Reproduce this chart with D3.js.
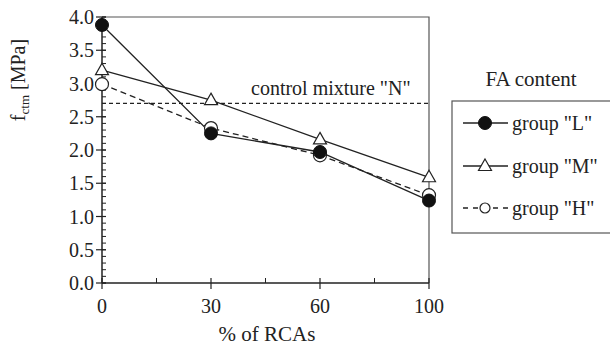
<!DOCTYPE html>
<html>
<head>
<meta charset="utf-8">
<script src="https://cdn.jsdelivr.net/npm/d3@7"></script>
<style>
body { margin: 0; background: #fff; }
</style>
</head>
<body>
<div id="chart"></div>
<script>
var categories = [0, 30, 60, 100];
var groupL = [3.88, 2.25, 1.97, 1.24];
var groupM = [3.20, 2.75, 2.16, 1.59];
var groupH = [2.99, 2.33, 1.92, 1.32];
var controlN = 2.70;
var yTicks = [0, 0.5, 1.0, 1.5, 2.0, 2.5, 3.0, 3.5, 4.0];
var seriesNames = ['group "L"', 'group "M"', 'group "H"'];

var width = 610, height = 349;
var box = { left: 102, top: 17, right: 429, bottom: 283 };
var font = "Liberation Serif";
var ink = "#222";

var svg = d3.select("#chart").append("svg")
    .attr("width", width).attr("height", height);

var x = d3.scalePoint().domain(categories).range([box.left, box.right]);
var y = d3.scaleLinear().domain([0, 4]).range([box.bottom, box.top]);

function label(sel, size) {
    return sel.attr("font-family", font).attr("font-size", size || 20).attr("fill", ink);
}

// frame (top + right)
svg.append("path")
    .attr("d", "M" + box.left + "," + box.top + "H" + box.right + "V" + box.bottom)
    .attr("fill", "none").attr("stroke", "#555").attr("stroke-width", 1.2);

// y axis
var yAxis = svg.append("g").attr("transform", "translate(" + box.left + ",0)");
yAxis.append("line").attr("y1", y(0)).attr("y2", y(4)).attr("stroke", ink).attr("stroke-width", 1.5);
yAxis.selectAll(".minor").data(d3.range(0, 41)).enter().append("line")
    .attr("x1", 0).attr("x2", 4)
    .attr("y1", d => y(d / 10)).attr("y2", d => y(d / 10))
    .attr("stroke", ink).attr("stroke-width", 1);
yAxis.selectAll(".major").data(yTicks).enter().append("line")
    .attr("x1", -6).attr("x2", 4)
    .attr("y1", d => y(d)).attr("y2", d => y(d))
    .attr("stroke", ink).attr("stroke-width", 1.2);
yAxis.selectAll(".lab").data(yTicks).enter().append("text")
    .call(label, 20)
    .attr("x", -8).attr("y", d => y(d)).attr("dy", "0.35em")
    .attr("text-anchor", "end")
    .text(d => d.toFixed(1));

// x axis
var xAxis = svg.append("g").attr("transform", "translate(0," + box.bottom + ")");
xAxis.append("line").attr("x1", box.left).attr("x2", box.right).attr("stroke", ink).attr("stroke-width", 1.5);
var step = x.step();
xAxis.selectAll(".minor").data(categories.slice(0, -1)).enter().append("line")
    .attr("x1", d => x(d) + step / 2).attr("x2", d => x(d) + step / 2)
    .attr("y1", 0).attr("y2", -5).attr("stroke", ink).attr("stroke-width", 1);
xAxis.selectAll(".major").data(categories).enter().append("line")
    .attr("x1", d => x(d)).attr("x2", d => x(d))
    .attr("y1", -5).attr("y2", 6).attr("stroke", ink).attr("stroke-width", 1.2);
xAxis.selectAll(".lab").data(categories).enter().append("text")
    .call(label, 20)
    .attr("x", d => x(d)).attr("y", 30)
    .attr("text-anchor", "middle")
    .text(d => d);

svg.append("text").call(label, 21)
    .attr("x", 267).attr("y", 341)
    .attr("text-anchor", "middle").text("% of RCAs");

var yl = svg.append("text").call(label, 20)
    .attr("transform", "translate(25,80) rotate(-90)")
    .attr("text-anchor", "middle");
yl.append("tspan").text("f");
yl.append("tspan").attr("font-size", 13).attr("dy", 4).text("ctm");
yl.append("tspan").attr("dy", -4).text(" [MPa]");

// control line
svg.append("line")
    .attr("x1", box.left).attr("x2", box.right)
    .attr("y1", y(controlN)).attr("y2", y(controlN))
    .attr("stroke", ink).attr("stroke-width", 1.3).attr("stroke-dasharray", "4,3");
svg.append("text").call(label, 20)
    .attr("x", 251).attr("y", y(controlN) - 8)
    .text('control mixture "N"');

var line = d3.line().x((d, i) => x(categories[i])).y(d => y(d));

var series = [
    { name: seriesNames[0], values: groupL, dash: null, marker: "dot" },
    { name: seriesNames[1], values: groupM, dash: null, marker: "tri" },
    { name: seriesNames[2], values: groupH, dash: "6,4", marker: "circ" }
];

function drawMarker(g, type, cx, cy, small) {
    if (type === "dot") {
        g.append("circle").attr("cx", cx).attr("cy", cy).attr("r", 6.5)
            .attr("fill", "#111").attr("stroke", "#111");
    } else if (type === "circ") {
        g.append("circle").attr("cx", cx).attr("cy", cy).attr("r", small ? 5 : 6.5)
            .attr("fill", "#fff").attr("stroke", ink).attr("stroke-width", 1.2);
    } else {
        g.append("path")
            .attr("d", "M" + cx + "," + (cy - 7) + "L" + (cx + 6.5) + "," + (cy + 4.5) + "L" + (cx - 6.5) + "," + (cy + 4.5) + "Z")
            .attr("fill", "#fff").attr("stroke", ink).attr("stroke-width", 1.2);
    }
}

series.slice().reverse().forEach(function (s) {
    svg.append("path").datum(s.values)
        .attr("d", line).attr("fill", "none")
        .attr("stroke", ink).attr("stroke-width", 1.3)
        .attr("stroke-dasharray", s.dash);
});
[series[2], series[1], series[0]].forEach(function (s) {
    var g = svg.append("g");
    s.values.forEach(function (v, i) { drawMarker(g, s.marker, x(categories[i]), y(v)); });
});

// legend
svg.append("text").call(label, 21)
    .attr("x", 531).attr("y", 86)
    .attr("text-anchor", "middle").text("FA content");
svg.append("rect").attr("x", 452).attr("y", 101).attr("width", 170).attr("height", 132)
    .attr("fill", "none").attr("stroke", "#555").attr("stroke-width", 1.2);
var rowY = [123, 166, 208];
series.forEach(function (s, i) {
    var ly = rowY[i];
    var g = svg.append("g");
    g.append("line").attr("x1", 463).attr("x2", 508).attr("y1", ly).attr("y2", ly)
        .attr("stroke", ink).attr("stroke-width", 1.3).attr("stroke-dasharray", s.dash ? "5,5" : null);
    drawMarker(g, s.marker, 485, ly, true);
    g.append("text").call(label, 20)
        .attr("x", 512).attr("y", ly).attr("dy", "0.33em")
        .text(s.name);
});
</script>
</body>
</html>
